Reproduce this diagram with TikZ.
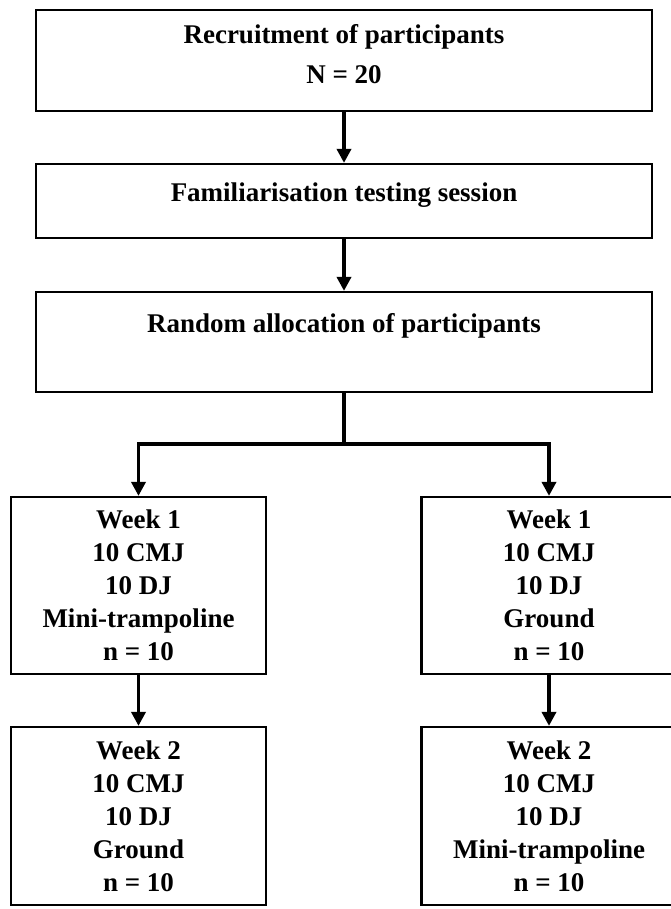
\documentclass[tikz,border=0pt]{standalone}
\usepackage{fontspec}
\setmainfont{Liberation Serif}
\usetikzlibrary{arrows.meta}

\begin{document}
\begin{tikzpicture}[x=1pt,y=-1pt,
	box/.style={shape=rectangle,draw=black,line width=2.2pt,inner sep=0pt,align=center,
		font=\bfseries\fontsize{27}{33}\selectfont},
	flow/.style={-{Triangle[width=14pt,length=14pt]},line width=3.5pt}]
	\clip (0,0) rectangle (671,909);

	\node[box,minimum width=616pt,minimum height=101pt,text height=74pt,text depth=27pt,
		font=\bfseries\fontsize{27}{40}\selectfont] (recruit) at (344, 60.5)
		{Recruitment of participants\\N = 20};
	\node[box,minimum width=616pt,minimum height=74pt,text height=38pt,text depth=36pt] (famil) at (344, 201)
		{Familiarisation testing session};
	\node[box,minimum width=616pt,minimum height=100pt,text height=40pt,text depth=60pt] (alloc) at (344, 342)
		{Random allocation of participants};

	\node[box,minimum width=255pt,minimum height=177pt] (mt1) at (138.5, 585.5)
		{Week 1\\10 CMJ\\10 DJ\\Mini-trampoline\\n = 10};
	\node[box,minimum width=255pt,minimum height=178pt] (gr2) at (138.5, 816)
		{Week 2\\10 CMJ\\10 DJ\\Ground\\n = 10};
	\node[box,minimum width=255pt,minimum height=177pt] (gr1) at (549, 585.5)
		{Week 1\\10 CMJ\\10 DJ\\Ground\\n = 10};
	\node[box,minimum width=255pt,minimum height=178pt] (mt2) at (549, 816)
		{Week 2\\10 CMJ\\10 DJ\\Mini-trampoline\\n = 10};

	\coordinate (split) at (344, 444);

	\draw[flow] (recruit) -- (famil);
	\draw[flow] (famil) -- (alloc);
	\draw[line width=3.5pt] (alloc) -- (split);
	\draw[flow] (split) -| (mt1);
	\draw[flow] (split) -| (gr1);
	\draw[flow] (mt1) -- (gr2);
	\draw[flow] (gr1) -- (mt2);
\end{tikzpicture}
\end{document}
